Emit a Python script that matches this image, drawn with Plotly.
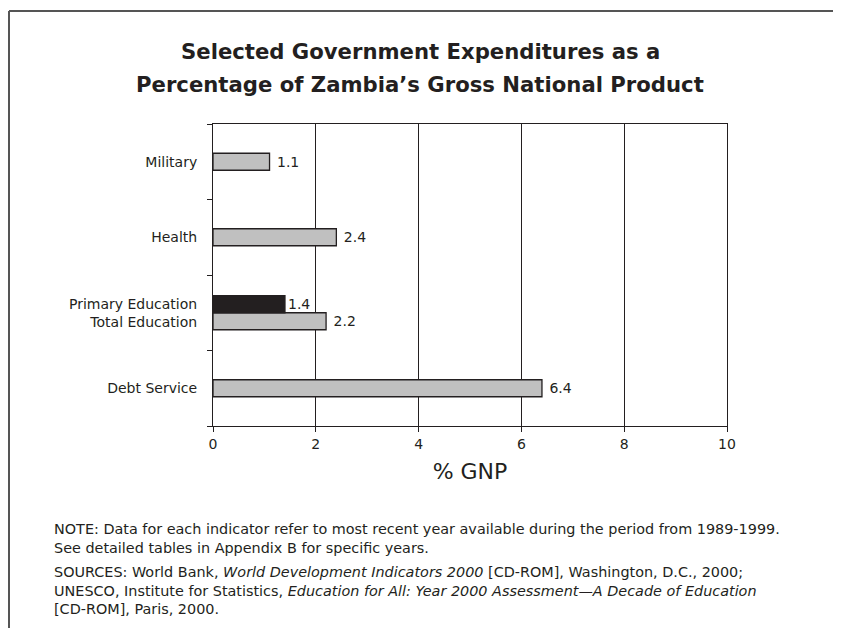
"""Zambia government expenditures as % of GNP - horizontal bar chart."""

import plotly.graph_objects as go

# --- data -------------------------------------------------------------
rows = ["Military", "Health", "Education", "Debt Service"]
row_labels = ["Military", "Health", "Primary Education<br>Total Education", "Debt Service"]
gray_values = [1.1, 2.4, 2.2, 6.4]      # Total Education sits in the Education row
primary_rows = ["Education"]
primary_values = [1.4]
x_ticks = [0, 2, 4, 6, 8, 10]

title_lines = [
    "Selected Government Expenditures as a",
    "Percentage of Zambia\u2019s Gross National Product",
]
note_text = ("NOTE: Data for each indicator refer to most recent year available during the period from 1989-1999.<br>"
             "See detailed tables in Appendix B for specific years.")
source_text = ("SOURCES: World Bank, <i>World Development Indicators 2000</i> [CD-ROM], Washington, D.C., 2000;<br>"
               "UNESCO, Institute for Statistics, <i>Education for All: Year 2000 Assessment\u2014A Decade of Education</i><br>"
               "[CD-ROM], Paris, 2000.")

# --- page geometry (page pixels; the browser body adds an 8px offset) ---
PAGE_W, PAGE_H = 841, 628
OFF = 8
L, R, T, B = 213, 727, 124, 426
FONT = "DejaVu Sans, Liberation Sans, Arial, sans-serif"
INK = "#231f20"


def px_x(p):
    return (p - L) / (R - L)


def px_y(p):
    return (B - p) / (B - T)


fig = go.Figure()

bar_w = 0.225
fig.add_trace(go.Bar(
    y=rows, x=gray_values, orientation="h",
    width=bar_w, offset=[-bar_w / 2, -bar_w / 2, 0, -bar_w / 2],
    marker=dict(color="#c0c0c0", line=dict(color=INK, width=1.3)),
    texttemplate=" %{x:.1f}", textposition="outside", constraintext="none",
    textfont=dict(family=FONT, size=14, color=INK),
    cliponaxis=False, showlegend=False,
))
fig.add_trace(go.Bar(
    y=primary_rows, x=primary_values, orientation="h",
    width=bar_w, offset=-bar_w,
    marker=dict(color=INK, line=dict(color=INK, width=1.3)),
    texttemplate="%{x:.1f}", textposition="outside", constraintext="none",
    textfont=dict(family=FONT, size=14, color=INK),
    cliponaxis=False, showlegend=False,
))

fig.update_layout(
    width=PAGE_W - OFF, height=PAGE_H - OFF,
    margin=dict(l=L - OFF, r=PAGE_W - R, t=T - OFF, b=PAGE_H - B),
    paper_bgcolor="white", plot_bgcolor="white",
    barmode="overlay",
    font=dict(family=FONT, color=INK, size=14),
    xaxis=dict(
        range=[0, 10], tickvals=x_ticks, ticks="outside", ticklen=5,
        tickcolor=INK, showgrid=True, gridcolor=INK, gridwidth=1,
        showline=True, linecolor=INK, linewidth=1, mirror=True, zeroline=False,
        tickfont=dict(size=14),
        title=dict(text="% GNP", font=dict(size=22), standoff=12),
    ),
    yaxis=dict(
        type="category", categoryorder="array", categoryarray=rows,
        range=[3.5, -0.5], tickvals=rows, ticktext=row_labels,
        tickson="boundaries", ticks="outside", ticklen=5, tickcolor=INK,
        showgrid=False, showline=True, linecolor=INK, linewidth=1, mirror=True,
        ticklabelstandoff=12, tickfont=dict(size=14),
    ),
)

# title
for text, y in zip(title_lines, [52, 85]):
    fig.add_annotation(
        text=f"<b>{text}</b>", xref="paper", yref="paper",
        x=px_x(420), y=px_y(y), xanchor="center", yanchor="middle",
        showarrow=False, font=dict(family=FONT, size=21.2, color=INK),
    )

# notes
for text, y in [(note_text, 519), (source_text, 562)]:
    fig.add_annotation(
        text=text, xref="paper", yref="paper", align="left",
        x=px_x(52), y=px_y(y), xanchor="left", yanchor="top",
        showarrow=False, font=dict(family=FONT, size=14.4, color=INK),
    )

# page frame (top and left edges)
frame = dict(color="#555555", width=2)
fig.add_shape(type="line", xref="paper", yref="paper",
              x0=px_x(9), y0=px_y(11), x1=px_x(PAGE_W), y1=px_y(11), line=frame)
fig.add_shape(type="line", xref="paper", yref="paper",
              x0=px_x(9), y0=px_y(11), x1=px_x(9), y1=px_y(PAGE_H), line=frame)

fig.write_html("out.html")
